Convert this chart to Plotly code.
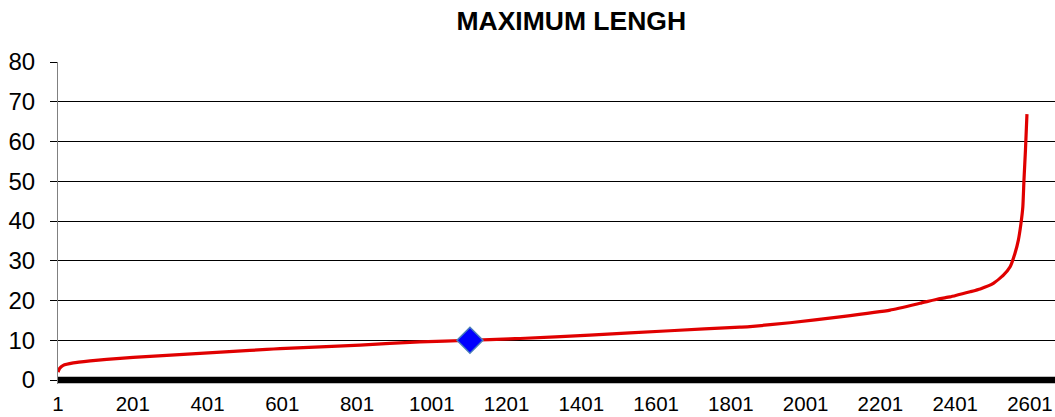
import plotly.graph_objects as go

# Sorted maximum-length values, sampled along the record index
record_index = [1, 5, 15, 42, 87, 131, 202, 292, 381, 470, 559, 595, 809, 969,
                1103, 1210, 1237, 1424, 1638, 1825, 1852, 1959, 2093, 2227, 2307,
                2361, 2387, 2441, 2468, 2503, 2530, 2548, 2561, 2570, 2577, 2582,
                2585, 2589, 2593]
max_length = [2.0, 2.9, 3.7, 4.3, 4.8, 5.2, 5.7, 6.2, 6.7, 7.2, 7.7, 7.9, 8.8, 9.6,
              10.0, 10.35, 10.45, 11.3, 12.4, 13.3, 13.45, 14.4, 15.9, 17.6, 19.3,
              20.5, 20.9, 22.2, 22.9, 24.3, 26.4, 28.5, 31.9, 35.2, 39.4, 43.6,
              50.3, 57.9, 66.9]

# Highlighted record
highlight_index = [1103]
highlight_value = [10]

# Zero reference series spanning all categories
baseline_index = [1, 2668]
baseline_value = [0, 0]

x_tick_values = [1, 201, 401, 601, 801, 1001, 1201, 1401, 1601, 1801, 2001, 2201, 2401, 2601]
y_tick_values = [0, 10, 20, 30, 40, 50, 60, 70, 80]

font_family = "Liberation Sans, Arial, sans-serif"

fig = go.Figure()

fig.add_trace(go.Scatter(
    x=baseline_index, y=baseline_value, mode="lines",
    line=dict(color="#000000", width=6.5), hoverinfo="skip", showlegend=False,
))

fig.add_trace(go.Scatter(
    x=record_index, y=max_length, mode="lines",
    line=dict(color="#E00000", width=3.2, shape="spline", smoothing=0.4),
    showlegend=False,
))

fig.add_trace(go.Scatter(
    x=highlight_index, y=highlight_value, mode="markers",
    marker=dict(symbol="diamond", size=20, color="#0000FF",
                line=dict(color="#4A7EBB", width=1.5)),
    showlegend=False,
))

fig.update_layout(
    width=1055, height=417,
    margin=dict(l=58, r=0, t=62, b=33),
    paper_bgcolor="white", plot_bgcolor="white",
    font=dict(family=font_family, color="#000000"),
    title=dict(text="<b>MAXIMUM LENGH</b>", x=0.5415, xanchor="center",
               y=1 - 21 / 417, yanchor="middle",
               font=dict(size=26.5, family=font_family, color="#000000")),
)

fig.update_xaxes(
    range=[1, 2668], tickmode="array", tickvals=x_tick_values,
    ticktext=[str(v) for v in x_tick_values],
    showgrid=False, zeroline=False, showline=False, ticks="",
    ticklabelstandoff=5, automargin=False,
    tickfont=dict(size=20.5, family=font_family, color="#000000"),
)

fig.update_yaxes(
    range=[-1, 80], tickmode="array", tickvals=y_tick_values,
    showgrid=True, gridcolor="#000000", gridwidth=1, zeroline=False,
    showline=True, linecolor="#808080", linewidth=1,
    ticks="outside", ticklen=7, tickcolor="#000000",
    ticklabelstandoff=10, automargin=False,
    tickfont=dict(size=24, family=font_family, color="#000000"),
)

fig.write_html("out.html")
